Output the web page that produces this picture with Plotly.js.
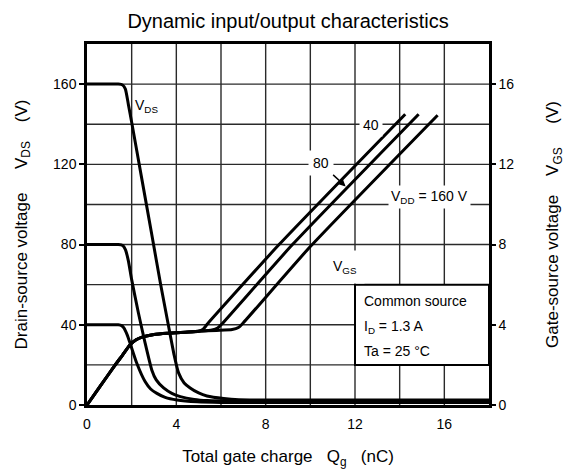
<!DOCTYPE html>
<html><head><meta charset="utf-8">
<script src="https://cdn.plot.ly/plotly-3.0.1.min.js"></script>
<style>html,body{margin:0;padding:0;background:#fff}#chart{width:565px;height:469px}</style>
</head><body><div id="chart"></div>
<script>
const FONT = 'Liberation Sans, Arial, Helvetica, sans-serif';

// Drain-source voltage curves (left axis, V) vs total gate charge (nC)
const qgVds160 = [0, 1.4, 1.6, 1.72, 1.85, 2.0, 2.45, 2.9, 3.3, 3.64, 3.9, 4.1, 4.35, 4.62, 5.0, 5.37, 6.12, 6.8, 8, 18];
const vds160   = [160, 160, 159.5, 157.5, 150, 141, 113, 85, 60, 40, 25, 16, 11, 8.5, 6, 4.5, 3.2, 2.6, 2.5, 2.5];
const qgVds80  = [0, 1.4, 1.6, 1.72, 1.85, 2.0, 2.3, 2.6, 2.9, 3.1, 3.43, 3.8, 4.18, 4.8, 5.4, 6.5, 18];
const vds80    = [80, 80, 79.5, 77.5, 72, 62.5, 46, 31, 17.5, 12.5, 8.5, 5.8, 4.2, 2.8, 2.2, 1.9, 1.8];
const qgVds40  = [0, 1.4, 1.55, 1.65, 1.8, 1.93, 2.23, 2.6, 2.85, 3.13, 3.5, 4.03, 4.93, 6, 18];
const vds40    = [40, 40, 39.6, 38.5, 35, 30.8, 20.8, 11.7, 8, 5.8, 3.8, 2.5, 1.6, 1.3, 1.2];

// Gate-source voltage curves (right axis, V)
const qgVgs40  = [0, 0.6, 1.2, 1.6, 1.93, 2.2, 2.5, 3.0, 3.6, 4.4, 5.0, 5.2, 5.4, 8.6, 14.25];
const vgs40    = [0, 0.95, 1.9, 2.5, 3.0, 3.25, 3.4, 3.52, 3.58, 3.63, 3.68, 3.78, 4.05, 8.0, 14.5];
const qgVgs80  = [0, 0.6, 1.2, 1.6, 1.93, 2.2, 2.5, 3.0, 3.6, 4.4, 5.0, 5.6, 5.85, 6.05, 9.2, 14.85];
const vgs80    = [0, 0.95, 1.9, 2.5, 3.0, 3.25, 3.4, 3.52, 3.58, 3.63, 3.68, 3.74, 3.84, 4.05, 8.0, 14.5];
const qgVgs160 = [0, 0.6, 1.2, 1.6, 1.93, 2.2, 2.5, 3.0, 3.6, 4.4, 5.0, 5.8, 6.5, 6.78, 7.0, 10.0, 15.7];
const vgs160   = [0, 0.95, 1.9, 2.5, 3.0, 3.25, 3.4, 3.52, 3.58, 3.63, 3.68, 3.72, 3.76, 3.86, 4.1, 7.9, 14.45];

// grid positions (axis units)
const gridQg = [2, 4, 6, 8, 10, 12, 14, 16];
const gridVds = [20, 40, 60, 80, 100, 120, 140, 160];

const lineStyle = {color: '#000', width: 3, shape: 'spline', smoothing: 0.5};
function tr(x, y, name, axis) {
  return {x: x, y: y, name: name, type: 'scatter', mode: 'lines', line: lineStyle,
          xaxis: 'x', yaxis: axis, hoverinfo: 'skip', showlegend: false};
}

const data = [
  tr(qgVds160, vds160, 'VDS 160 V', 'y'),
  tr(qgVds80, vds80, 'VDS 80 V', 'y'),
  tr(qgVds40, vds40, 'VDS 40 V', 'y'),
  tr(qgVgs40, vgs40, 'VGS 40 V', 'y2'),
  tr(qgVgs80, vgs80, 'VGS 80 V', 'y2'),
  tr(qgVgs160, vgs160, 'VGS 160 V', 'y2')
];

const gridLine = {color: '#2a2a2a', width: 1.4};
const nb = '\u00A0';
const sp = n => nb.repeat(n);

const shapes = [];
gridQg.forEach(v => shapes.push({type: 'line', xref: 'x', yref: 'paper', x0: v, x1: v, y0: 0, y1: 1, line: gridLine, layer: 'below'}));
gridVds.forEach(v => shapes.push({type: 'line', xref: 'paper', yref: 'y', x0: 0, x1: 1, y0: v, y1: v, line: gridLine, layer: 'below'}));
shapes.push({type: 'rect', xref: 'x', yref: 'y', x0: 12, x1: 18, y0: 20, y1: 60,
             line: {color: '#000', width: 2}, fillcolor: '#ffffff', layer: 'above'});

const layout = {
  width: 565, height: 469,
  margin: {l: 87, r: 76, t: 44, b: 64},
  paper_bgcolor: '#ffffff', plot_bgcolor: '#ffffff',
  font: {family: FONT, color: '#000', size: 14},
  showlegend: false,
  title: {text: 'Dynamic input/output characteristics', font: {size: 20, family: FONT, color: '#000'},
          x: 0.5, xref: 'paper', xanchor: 'center', y: 1 - 21/469, yref: 'container', yanchor: 'middle'},
  xaxis: {
    range: [0, 18], tickmode: 'linear', tick0: 0, dtick: 4, showgrid: false,
    zeroline: false, showline: true, mirror: true, linecolor: '#000', linewidth: 2.5,
    ticks: '', ticklabelstandoff: 4, tickfont: {size: 14},
    title: {text: 'Total gate charge' + sp(3) + 'Q<sub>g</sub>' + sp(3) + '(nC)', font: {size: 17}, standoff: 22}
  },
  yaxis: {
    range: [0, 180], tickmode: 'linear', tick0: 0, dtick: 40, showgrid: false,
    zeroline: false, showline: true, mirror: true, linecolor: '#000', linewidth: 2.5,
    ticks: 'outside', ticklen: 5, tickwidth: 2, tickcolor: '#000', tickfont: {size: 14},
    title: {text: 'Drain-source voltage' + sp(5) + 'V<sub>DS</sub>' + sp(4) + '(V)', font: {size: 17}, standoff: 22}
  },
  yaxis2: {
    overlaying: 'y', side: 'right', range: [0, 18], tickmode: 'linear', tick0: 0, dtick: 4,
    showgrid: false, zeroline: false,
    showline: true, linecolor: '#000', linewidth: 2.5,
    ticks: 'outside', ticklen: 4, tickwidth: 2, tickcolor: '#000', tickfont: {size: 14},
    title: {text: 'Gate-source voltage' + sp(4) + 'V<sub>GS</sub>' + sp(5) + '(V)', font: {size: 17}, standoff: 40}
  },
  shapes: shapes,
  annotations: [
    {x: 2.05, y: 149, xref: 'x', yref: 'y', text: 'V<sub>DS</sub>', showarrow: false, xanchor: 'left', yanchor: 'middle', font: {size: 14}},
    {x: 12.72, y: 139.4, xref: 'x', yref: 'y', text: '40', showarrow: false, bgcolor: '#ffffff', borderpad: 3, font: {size: 14}},
    {x: 11.58, y: 109, xref: 'x', yref: 'y', text: '80', showarrow: true, ax: -25, ay: -23, arrowhead: 2, arrowsize: 1, arrowwidth: 1.5, arrowcolor: '#000', standoff: 0, bgcolor: '#ffffff', borderpad: 4, font: {size: 14}},
    {x: 15.33, y: 103.5, xref: 'x', yref: 'y', text: 'V<sub>DD</sub> = 160 V', showarrow: false, bgcolor: '#ffffff', borderpad: 2, font: {size: 14}},
    {x: 11.56, y: 69, xref: 'x', yref: 'y', text: 'V<sub>GS</sub>', showarrow: false, bgcolor: '#ffffff', borderpad: 7, font: {size: 14}},
    {x: 12.33, y: 52, xref: 'x', yref: 'y', text: 'Common source', showarrow: false, xanchor: 'left', font: {size: 14}},
    {x: 12.33, y: 39, xref: 'x', yref: 'y', text: 'I<sub>D</sub> = 1.3 A', showarrow: false, xanchor: 'left', font: {size: 14}},
    {x: 12.33, y: 26.7, xref: 'x', yref: 'y', text: 'Ta = 25 \u00B0C', showarrow: false, xanchor: 'left', font: {size: 14}}
  ]
};

Plotly.newPlot('chart', data, layout, {displayModeBar: false});
</script>
</body></html>
